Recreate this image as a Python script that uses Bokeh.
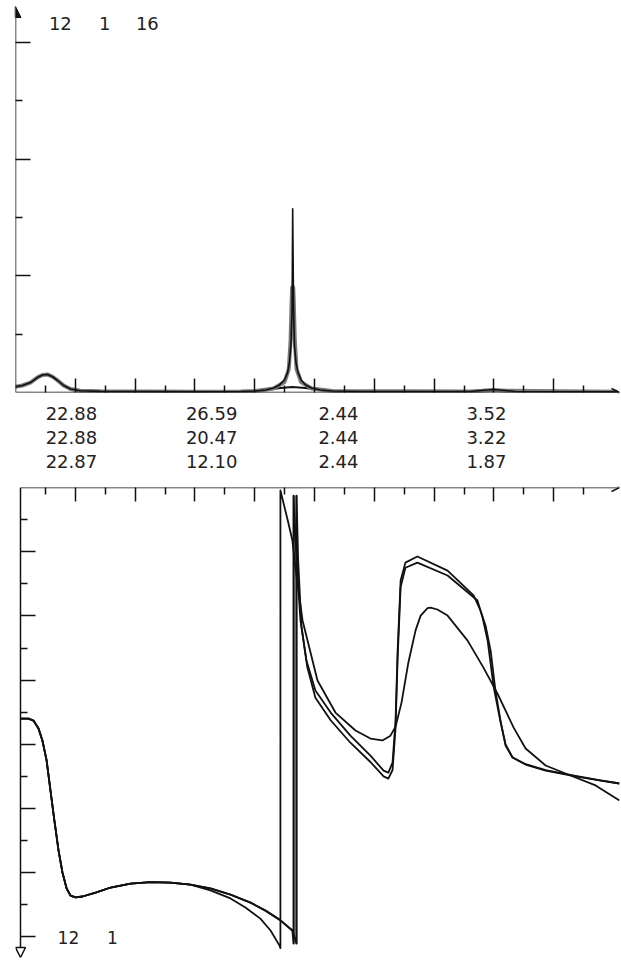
from bokeh.plotting import figure
from bokeh.models import Range1d, FixedTicker, Arrow, NormalHead, OpenHead, LinearAxis
from bokeh.layouts import column
from bokeh.embed import file_html
from bokeh.resources import INLINE
from bokeh.core.properties import value

FONT = "DejaVu Sans"

# ---------------- data (channel units on x, tick units on y) ----------------
# top panel: amplitude spectra (three runs)
left_x = [0.00, 0.23, 0.50, 0.74, 0.90, 1.07, 1.24, 1.40, 1.61, 1.84, 2.17, 2.84, 6.19, 7.53]
left_y = [0.10, 0.12, 0.17, 0.26, 0.30, 0.31, 0.27, 0.21, 0.12, 0.06, 0.03, 0.02, 0.014, 0.017]

amp1_x = [8.03, 8.36, 8.63, 8.83, 9.00, 9.10, 9.16, 9.21, 9.25, 9.27, 9.30, 9.33, 9.38, 9.45, 9.55, 9.70, 9.90, 10.2, 10.6, 11.54, 15.22, 15.55, 15.99, 16.39, 16.72, 20.13]
amp1_y = [0.026, 0.043, 0.077, 0.13, 0.22, 0.34, 0.51, 0.81, 1.41, 3.16, 1.41, 0.81, 0.51, 0.34, 0.22, 0.13, 0.077, 0.043, 0.026, 0.017, 0.017, 0.034, 0.051, 0.034, 0.017, 0.014]

amp2_x = [8.03, 8.63, 9.00, 9.14, 9.20, 9.23, 9.25, 9.27, 9.29, 9.31, 9.34, 9.40, 9.55, 9.90, 10.6, 15.22, 15.6, 15.99, 16.39, 20.13]
amp2_y = [0.026, 0.07, 0.18, 0.40, 0.90, 1.50, 1.80, 1.82, 1.80, 1.50, 0.90, 0.40, 0.18, 0.07, 0.026, 0.017, 0.03, 0.045, 0.03, 0.014]

amp3_x = [7.86, 8.36, 8.86, 9.26, 9.70, 10.2, 10.7, 15.22, 15.6, 15.99, 16.39, 20.13]
amp3_y = [0.017, 0.043, 0.077, 0.094, 0.077, 0.043, 0.017, 0.017, 0.025, 0.03, 0.02, 0.014]

# numbers printed between the panels (one row per run)
col1 = ["22.88", "22.88", "22.87"]
col2 = ["26.59", "20.47", "12.10"]
col3 = ["2.44", "2.44", "2.44"]
col4 = ["3.52", "3.22", "1.87"]
col_x = [1.87, 6.56, 10.80, 15.75]
row_y = [0, 1, 2]

top_labels = ["12", "1", "16"]
top_labels_x = [1.50, 2.98, 4.41]
bottom_labels = ["12", "1"]
bottom_labels_x = [1.77, 3.24]

# bottom panel: phase curves (y grows downwards)
ph_common_x = [0.167, 0.435, 0.60, 0.77, 0.90, 1.04, 1.17, 1.30, 1.44, 1.57, 1.71, 1.84, 2.01, 2.24, 2.68, 3.18, 3.85, 4.52, 5.18, 5.85]
ph_common_y = [7.20, 7.20, 7.26, 7.51, 7.88, 8.50, 9.44, 10.37, 11.31, 11.99, 12.49, 12.71, 12.77, 12.74, 12.62, 12.46, 12.34, 12.29, 12.31, 12.37]

ph1_x = [6.52, 7.19, 7.69, 8.19, 8.53, 8.83, 8.86, 8.86, 9.13, 9.26, 9.36, 9.60, 10.10, 10.70, 11.37, 11.87, 12.27, 12.54, 12.71, 12.91, 13.14, 13.38, 13.55, 13.78, 13.88, 14.11, 14.45, 15.12, 15.65, 16.12, 16.66, 17.06, 17.73, 18.56, 19.40, 20.20]
ph1_y = [12.55, 12.80, 13.08, 13.43, 13.80, 14.27, 14.35, 0.09, 1.12, 1.65, 2.49, 4.14, 6.01, 7.01, 7.57, 7.82, 7.88, 7.73, 7.45, 6.70, 5.45, 4.45, 3.99, 3.76, 3.74, 3.80, 3.99, 4.77, 5.61, 6.42, 7.48, 8.13, 8.66, 8.97, 9.28, 9.75]

ph2_x = [6.52, 7.19, 7.86, 8.36, 8.83, 9.26, 9.30, 9.30, 9.40, 9.53, 9.73, 10.03, 10.54, 11.20, 11.87, 12.31, 12.47, 12.61, 12.71, 12.78, 12.88, 13.04, 13.44, 14.45, 15.32, 15.55, 15.72, 15.89, 16.05, 16.22, 16.39, 16.62, 17.06, 17.73, 18.73, 19.57, 20.20]
ph2_y = [12.49, 12.68, 12.93, 13.18, 13.46, 13.80, 14.21, 0.25, 2.27, 4.14, 5.39, 6.32, 7.01, 7.73, 8.35, 8.82, 8.88, 8.57, 7.26, 5.08, 2.90, 2.34, 2.15, 2.59, 3.36, 3.83, 4.30, 5.08, 6.32, 7.26, 8.04, 8.41, 8.63, 8.82, 9.00, 9.13, 9.22]

ph3_x = [6.52, 7.19, 7.86, 8.36, 8.83, 9.26, 9.40, 9.40, 9.45, 9.56, 9.76, 10.03, 10.54, 11.20, 11.87, 12.31, 12.47, 12.61, 12.71, 12.78, 12.88, 13.04, 13.44, 14.45, 15.45, 15.62, 15.79, 15.99, 16.22, 16.39, 16.62, 17.06, 17.73, 18.73, 19.57, 20.20]
ph3_y = [12.49, 12.68, 12.93, 13.18, 13.46, 13.80, 14.21, 0.25, 2.20, 4.30, 5.60, 6.55, 7.25, 7.95, 8.55, 9.00, 9.07, 8.80, 7.50, 5.30, 3.10, 2.50, 2.34, 2.74, 3.52, 4.05, 4.77, 6.20, 7.30, 8.00, 8.40, 8.62, 8.80, 8.98, 9.12, 9.22]

LINE = "#111111"


def style_axis(ax, major, minor, tin, min_in):
    ax.ticker = FixedTicker(ticks=major, minor_ticks=minor)
    ax.axis_line_color = None
    ax.major_tick_in = tin
    ax.major_tick_out = 0
    ax.minor_tick_in = min_in
    ax.minor_tick_out = 0
    ax.major_tick_line_color = LINE
    ax.minor_tick_line_color = LINE
    ax.major_tick_line_width = 1.5
    ax.minor_tick_line_width = 1.5
    ax.major_label_overrides = {t: "" for t in major}
    ax.major_label_text_color = None
    ax.major_label_text_font_size = "1px"
    ax.major_label_standoff = 0
    return ax


W = 620

# ---------------- top panel ----------------
TOP_XMAX = 20.2
TOP_YMAX = 6.62
p1 = figure(width=W, height=396, x_range=Range1d(0, TOP_XMAX), y_range=Range1d(0, TOP_YMAX),
            output_backend="svg", toolbar_location=None, x_axis_type=None, y_axis_type=None,
            min_border_left=15, min_border_right=1, min_border_top=6, min_border_bottom=4)
p1.outline_line_color = None
p1.grid.visible = False
p1.add_layout(style_axis(LinearAxis(), list(range(2, 20, 2)), list(range(1, 20, 2)), 14, 7), "below")
p1.add_layout(style_axis(LinearAxis(), [2, 4, 6], [1, 3, 5], 15, 7), "left")

p1.line(left_x + amp3_x, left_y + amp3_y, line_color=LINE, line_width=2)
p1.line(left_x + amp2_x, left_y + amp2_y, line_color="#7a7a7a", line_width=4)
p1.line(left_x + amp1_x, left_y + amp1_y, line_color=LINE, line_width=1.6)

p1.add_layout(Arrow(x_start=0, y_start=0, x_end=0, y_end=TOP_YMAX, line_width=1.5, line_color=LINE,
                    end=NormalHead(size=11, fill_color=LINE, line_color=LINE)))
p1.add_layout(Arrow(x_start=0, y_start=0, x_end=TOP_XMAX, y_end=0, line_width=1.5, line_color=LINE,
                    end=OpenHead(size=8, line_width=1.5, line_color=LINE)))
p1.text(x=top_labels_x, y=[6.33] * len(top_labels), text=top_labels, text_font=value(FONT),
        text_font_size="18px", text_align="center", text_baseline="middle", text_color="#222222")

# ---------------- number table ----------------
p2 = figure(width=W, height=82, x_range=p1.x_range, y_range=Range1d(2.708, -0.708),
            output_backend="svg", toolbar_location=None, x_axis_type=None, y_axis_type=None,
            min_border_left=15, min_border_right=1, min_border_top=0, min_border_bottom=0)
p2.outline_line_color = None
p2.grid.visible = False
for cx, col in zip(col_x, [col1, col2, col3, col4]):
    p2.text(x=[cx] * len(col), y=row_y, text=col, text_font=value(FONT), text_font_size="18px",
            text_align="center", text_baseline="middle", text_color="#222222")

# ---------------- bottom panel ----------------
BOT_X0 = 0.167
BOT_YMAX = 14.64
p3 = figure(width=W, height=480, x_range=Range1d(0, TOP_XMAX), y_range=Range1d(BOT_YMAX, 0),
            output_backend="svg", toolbar_location=None, x_axis_type=None, y_axis_type=None,
            min_border_left=15, min_border_right=1, min_border_top=9, min_border_bottom=1)
p3.outline_line_color = None
p3.grid.visible = False
p3.add_layout(style_axis(LinearAxis(), list(range(2, 20, 2)), list(range(1, 20, 2)), 14, 7), "above")
left_axis = style_axis(LinearAxis(), list(range(2, 15, 2)), list(range(1, 15, 2)), 15, 7)
left_axis.fixed_location = BOT_X0
p3.add_layout(left_axis, "left")

# the grey band where two runs jump together
p3.segment(x0=[(ph2_x[6] + ph3_x[6]) / 2], y0=[ph2_y[7]], x1=[(ph2_x[6] + ph3_x[6]) / 2], y1=[ph2_y[6]],
           line_color="#8a8a8a", line_width=5)
p3.line(ph_common_x + ph3_x, ph_common_y + ph3_y, line_color=LINE, line_width=1.8, line_join="round")
p3.line(ph_common_x + ph2_x, ph_common_y + ph2_y, line_color=LINE, line_width=1.8, line_join="round")
p3.line(ph_common_x + ph1_x, ph_common_y + ph1_y, line_color=LINE, line_width=1.8, line_join="round")

p3.add_layout(Arrow(x_start=BOT_X0, y_start=0, x_end=BOT_X0, y_end=BOT_YMAX, line_width=1.5, line_color=LINE,
                    end=NormalHead(size=10, fill_color="white", line_color=LINE, line_width=1.5)))
p3.add_layout(Arrow(x_start=BOT_X0, y_start=0, x_end=TOP_XMAX, y_end=0, line_width=1.5, line_color=LINE,
                    end=OpenHead(size=8, line_width=1.5, line_color=LINE)))
p3.text(x=bottom_labels_x, y=[14.02] * len(bottom_labels), text=bottom_labels, text_font=value(FONT),
        text_font_size="17px", text_align="center", text_baseline="middle", text_color="#222222")

layout = column(p1, p2, p3, spacing=0)
open("out.html", "w").write(file_html(layout, INLINE))
